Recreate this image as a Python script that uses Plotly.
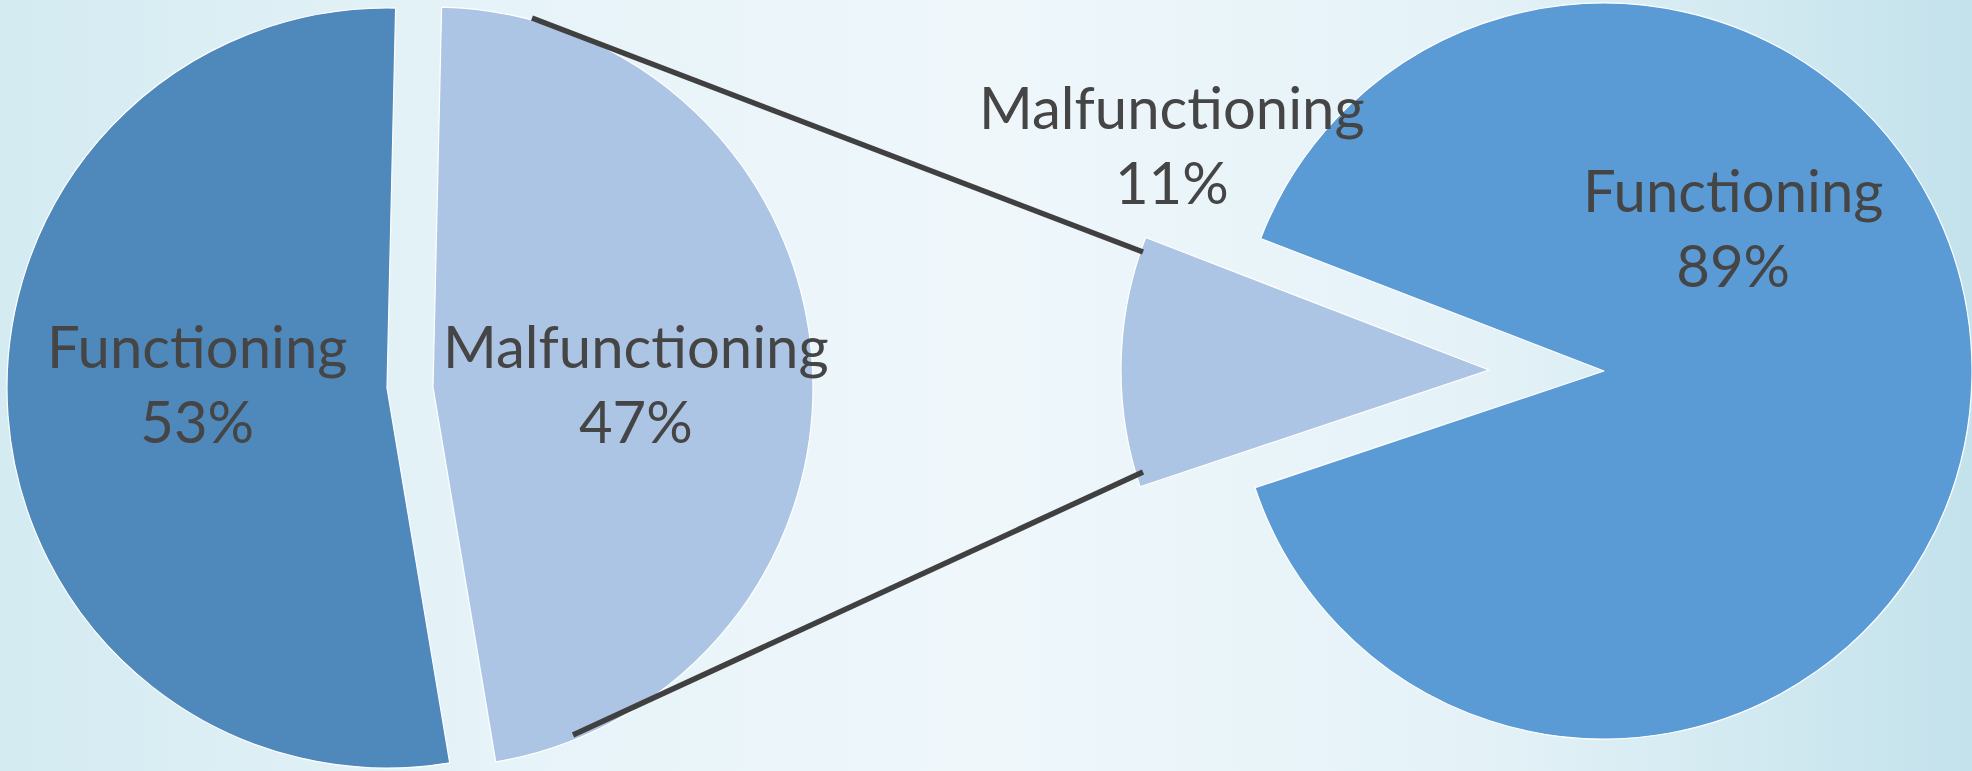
import plotly.graph_objects as go

W, H = 1972, 771

# ---- data ----
left_labels = ["Functioning", "Malfunctioning"]
left_values = [53, 47]
right_labels = ["Functioning", "Malfunctioning"]
right_values = [89, 11]

# ---- style ----
left_colors = ["#4f88bb", "#adc5e4"]
right_colors = ["#5b9bd5", "#adc5e4"]
TRANSPARENT = "rgba(0,0,0,0)"
TEXT_COLOR = "#454545"
FONT = "Lato"
FONT_SIZE = 58

# geometry (pixels): centre of each slice (exploded slices have their own centre), radius, rotation
left_geom = dict(centers=[(387, 388), (433, 387)], r=380, rotation=170.5)
right_geom = dict(centers=[(1604, 371), (1489, 370)], r=368, rotation=291.1)


def px_domain(cx, cy, r):
    return dict(x=[max(0.0, (cx - r) / W), min(1.0, (cx + r) / W)],
                y=[max(0.0, 1 - (cy + r) / H), min(1.0, 1 - (cy - r) / H)])


def pie_traces(labels, values, colors, geom):
    traces = []
    for i, (cx, cy) in enumerate(geom["centers"]):
        cols = [c if j == i else TRANSPARENT for j, c in enumerate(colors)]
        widths = [1.2 if j == i else 0 for j in range(len(colors))]
        traces.append(go.Pie(
            labels=labels, values=values, sort=False, direction="clockwise",
            rotation=geom["rotation"], domain=px_domain(cx, cy, geom["r"]),
            marker=dict(colors=cols, line=dict(color="white", width=widths)),
            textinfo="none", hoverinfo="skip", showlegend=False,
        ))
    return traces


fig = go.Figure()

# background gradient
fig.add_trace(go.Scatter(
    x=[0, 1, 1, 0, 0], y=[0, 0, 1, 1, 0], mode="lines", fill="toself",
    line=dict(width=0), hoverinfo="skip", showlegend=False,
    fillgradient=dict(type="horizontal", colorscale=[
        [0.0, "#d3ebf1"], [0.25, "#e6f3f8"], [0.5, "#eff7fb"],
        [0.75, "#e4f2f7"], [1.0, "#c3e2ec"]]),
))

for t in pie_traces(left_labels, left_values, left_colors, left_geom):
    fig.add_trace(t)
for t in pie_traces(right_labels, right_values, right_colors, right_geom):
    fig.add_trace(t)


def pct_text(labels, values, i):
    return f"{labels[i]}<br>{round(100 * values[i] / sum(values))}%"


label_pos = [
    (left_labels, left_values, 0, (197, 383)),
    (left_labels, left_values, 1, (636, 383)),
    (right_labels, right_values, 1, (1172, 144)),
    (right_labels, right_values, 0, (1733, 227)),
]
annotations = []
for labels, values, i, (px, py) in label_pos:
    annotations.append(dict(
        x=px / W, y=1 - py / H, xref="paper", yref="paper",
        text=pct_text(labels, values, i), showarrow=False,
        xanchor="center", yanchor="middle", align="center",
        font=dict(family=FONT, size=FONT_SIZE, color=TEXT_COLOR),
    ))

connectors = [((532, 18), (1143, 252)), ((573, 735), (1143, 472))]
shapes = []
for (x0, y0), (x1, y1) in connectors:
    shapes.append(dict(type="line", xref="paper", yref="paper",
                       x0=x0 / W, y0=1 - y0 / H, x1=x1 / W, y1=1 - y1 / H,
                       line=dict(color="#404040", width=5.5), layer="above"))

fig.update_layout(
    width=W, height=H, margin=dict(l=0, r=0, t=0, b=0),
    paper_bgcolor="#eaf5f9", plot_bgcolor="rgba(0,0,0,0)",
    xaxis=dict(range=[0, 1], visible=False, fixedrange=True),
    yaxis=dict(range=[0, 1], visible=False, fixedrange=True),
    annotations=annotations, shapes=shapes, showlegend=False,
)

fig.write_html("out.html",
               config={"displayModeBar": False},
               post_script="document.body.style.margin='0';document.body.style.overflow='hidden';")
